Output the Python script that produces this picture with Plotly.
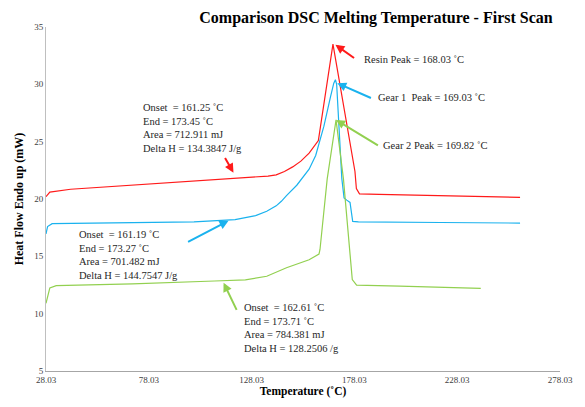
import plotly.graph_objects as go

# ---- data ----
resin_T = [28.03, 29.9, 40, 70, 100, 120, 136, 140, 144, 148, 152, 156, 160.5, 167.6,
           178.3, 179.0, 180.5, 190, 230, 258.6]
resin_V = [20.2, 20.6, 20.85, 21.2, 21.55, 21.8, 22.0, 22.1, 22.4, 22.8, 23.3, 24.0, 25.1, 33.5,
           22.4, 20.9, 20.45, 20.4, 20.25, 20.15]

gear1_T = [28.03, 28.8, 31, 60, 100, 120, 130, 135.4, 140, 142.5, 145, 150, 156, 159.2, 163.2,
           166.4, 168, 168.8, 169.4, 171.9, 173, 174.3, 175.9, 177.2, 180, 220, 258.6]
gear1_V = [16.95, 17.6, 17.85, 17.9, 18.0, 18.2, 18.55, 18.93, 19.4, 19.8, 20.3, 21.2, 22.6, 23.8, 26.35,
           28.9, 30.1, 30.4, 30.0, 21.8, 20.1, 19.9, 19.7, 18.05, 18.0, 17.95, 17.9]

gear2_T = [28.03, 29.9, 33, 70, 110, 125, 135.4, 145, 156, 160.8, 161.3, 164.8, 169.1,
           172.7, 177, 179.1, 200, 239.5]
gear2_V = [10.9, 12.25, 12.45, 12.6, 12.85, 12.95, 13.26, 14.0, 14.7, 15.2, 15.6, 21.75, 26.9,
           21.75, 12.97, 12.49, 12.4, 12.2]

x_tickvals = [28.03, 78.03, 128.03, 178.03, 228.03, 278.03]
x_ticktext = ["28.03", "78.03", "128.03", "178.03", "228.03", "278.03"]
y_tickvals = [5, 10, 15, 20, 25, 30, 35]

RED = "#ff1a1a"
BLUE = "#1ab2ee"
GREEN = "#92d050"
FONT = "Liberation Serif"
TXT = "#262626"

fig = go.Figure()
fig.add_trace(go.Scatter(x=resin_T, y=resin_V, mode="lines", line=dict(color=RED, width=1.2),
                         name="Resin", showlegend=False))
fig.add_trace(go.Scatter(x=gear1_T, y=gear1_V, mode="lines", line=dict(color=BLUE, width=1.2),
                         name="Gear 1", showlegend=False))
fig.add_trace(go.Scatter(x=gear2_T, y=gear2_V, mode="lines", line=dict(color=GREEN, width=1.2),
                         name="Gear 2", showlegend=False))


def arrow(x, y, ax, ay, color):
    fig.add_annotation(x=x, y=y, ax=ax, ay=ay, xref="x", yref="y", axref="x", ayref="y",
                       text="", showarrow=True, arrowhead=2, arrowsize=0.9, arrowwidth=2,
                       arrowcolor=color)


def label(x, y, text):
    fig.add_annotation(x=x, y=y, xref="x", yref="y", text=text, showarrow=False,
                       xanchor="left", yanchor="middle", align="left",
                       font=dict(family=FONT, size=10.5, color=TXT))


# peak labels
arrow(168.8, 33.45, 178.6, 32.2, RED)
label(181.5, 32.2, "Resin Peak = 168.03 ˚C")
arrow(169.7, 30.1, 186.8, 28.75, BLUE)
label(188.5, 28.85, "Gear 1  Peak = 169.03 ˚C")
arrow(169.1, 26.9, 190.2, 24.6, GREEN)
label(191.0, 24.7, "Gear 2 Peak = 169.82 ˚C")

# stats blocks
label(74.3, 26.2, "Onset  = 161.25 ˚C<br>End = 173.45 ˚C<br>Area = 712.911 mJ<br>Delta H = 134.3847 J/g")
arrow(119.2, 22.3, 114.7, 23.7, RED)
label(43.3, 15.1, "Onset  = 161.19 ˚C<br>End = 173.27 ˚C<br>Area = 701.482 mJ<br>Delta H = 144.7547 J/g")
arrow(116.8, 18.1, 96.4, 16.2, BLUE)
label(123.3, 8.75, "Onset  = 162.61 ˚C<br>End = 173.71 ˚C<br>Area = 784.381 mJ<br>Delta H = 128.2506 /g")
arrow(114.4, 12.7, 121.1, 10.2, GREEN)

fig.update_layout(
    width=585, height=407,
    margin=dict(l=46, r=16, t=27, b=33),
    paper_bgcolor="white", plot_bgcolor="white",
    font=dict(family=FONT, color=TXT),
    title=dict(text="<b>Comparison DSC Melting Temperature - First Scan</b>",
               x=0.642, xref="paper", xanchor="center", y=1 - 17 / 407, yref="container",
               yanchor="middle", font=dict(family=FONT, size=16, color="#000000")),
    xaxis=dict(range=[28.03, 278.03], tickvals=x_tickvals, ticktext=x_ticktext,
               showgrid=False, zeroline=False, showline=True, linecolor="#a6a6a6", linewidth=1,
               ticks="", tickfont=dict(family=FONT, size=9, color="#404040"),
               title=dict(text="<b>Temperature (˚C)</b>", standoff=2,
                          font=dict(family=FONT, size=11.5, color="#000000"))),
    yaxis=dict(range=[5, 35], tickvals=y_tickvals, showgrid=False, zeroline=False,
               showline=True, linecolor="#bfbfbf", linewidth=1, ticks="",
               tickfont=dict(family=FONT, size=9, color="#404040"),
               title=dict(text="<b>Heat Flow Endo up (mW)</b>", standoff=8,
                          font=dict(family=FONT, size=12, color="#000000"))),
)

fig.write_html("out.html", config={"displayModeBar": False},
               post_script="document.body.style.margin='0';")
